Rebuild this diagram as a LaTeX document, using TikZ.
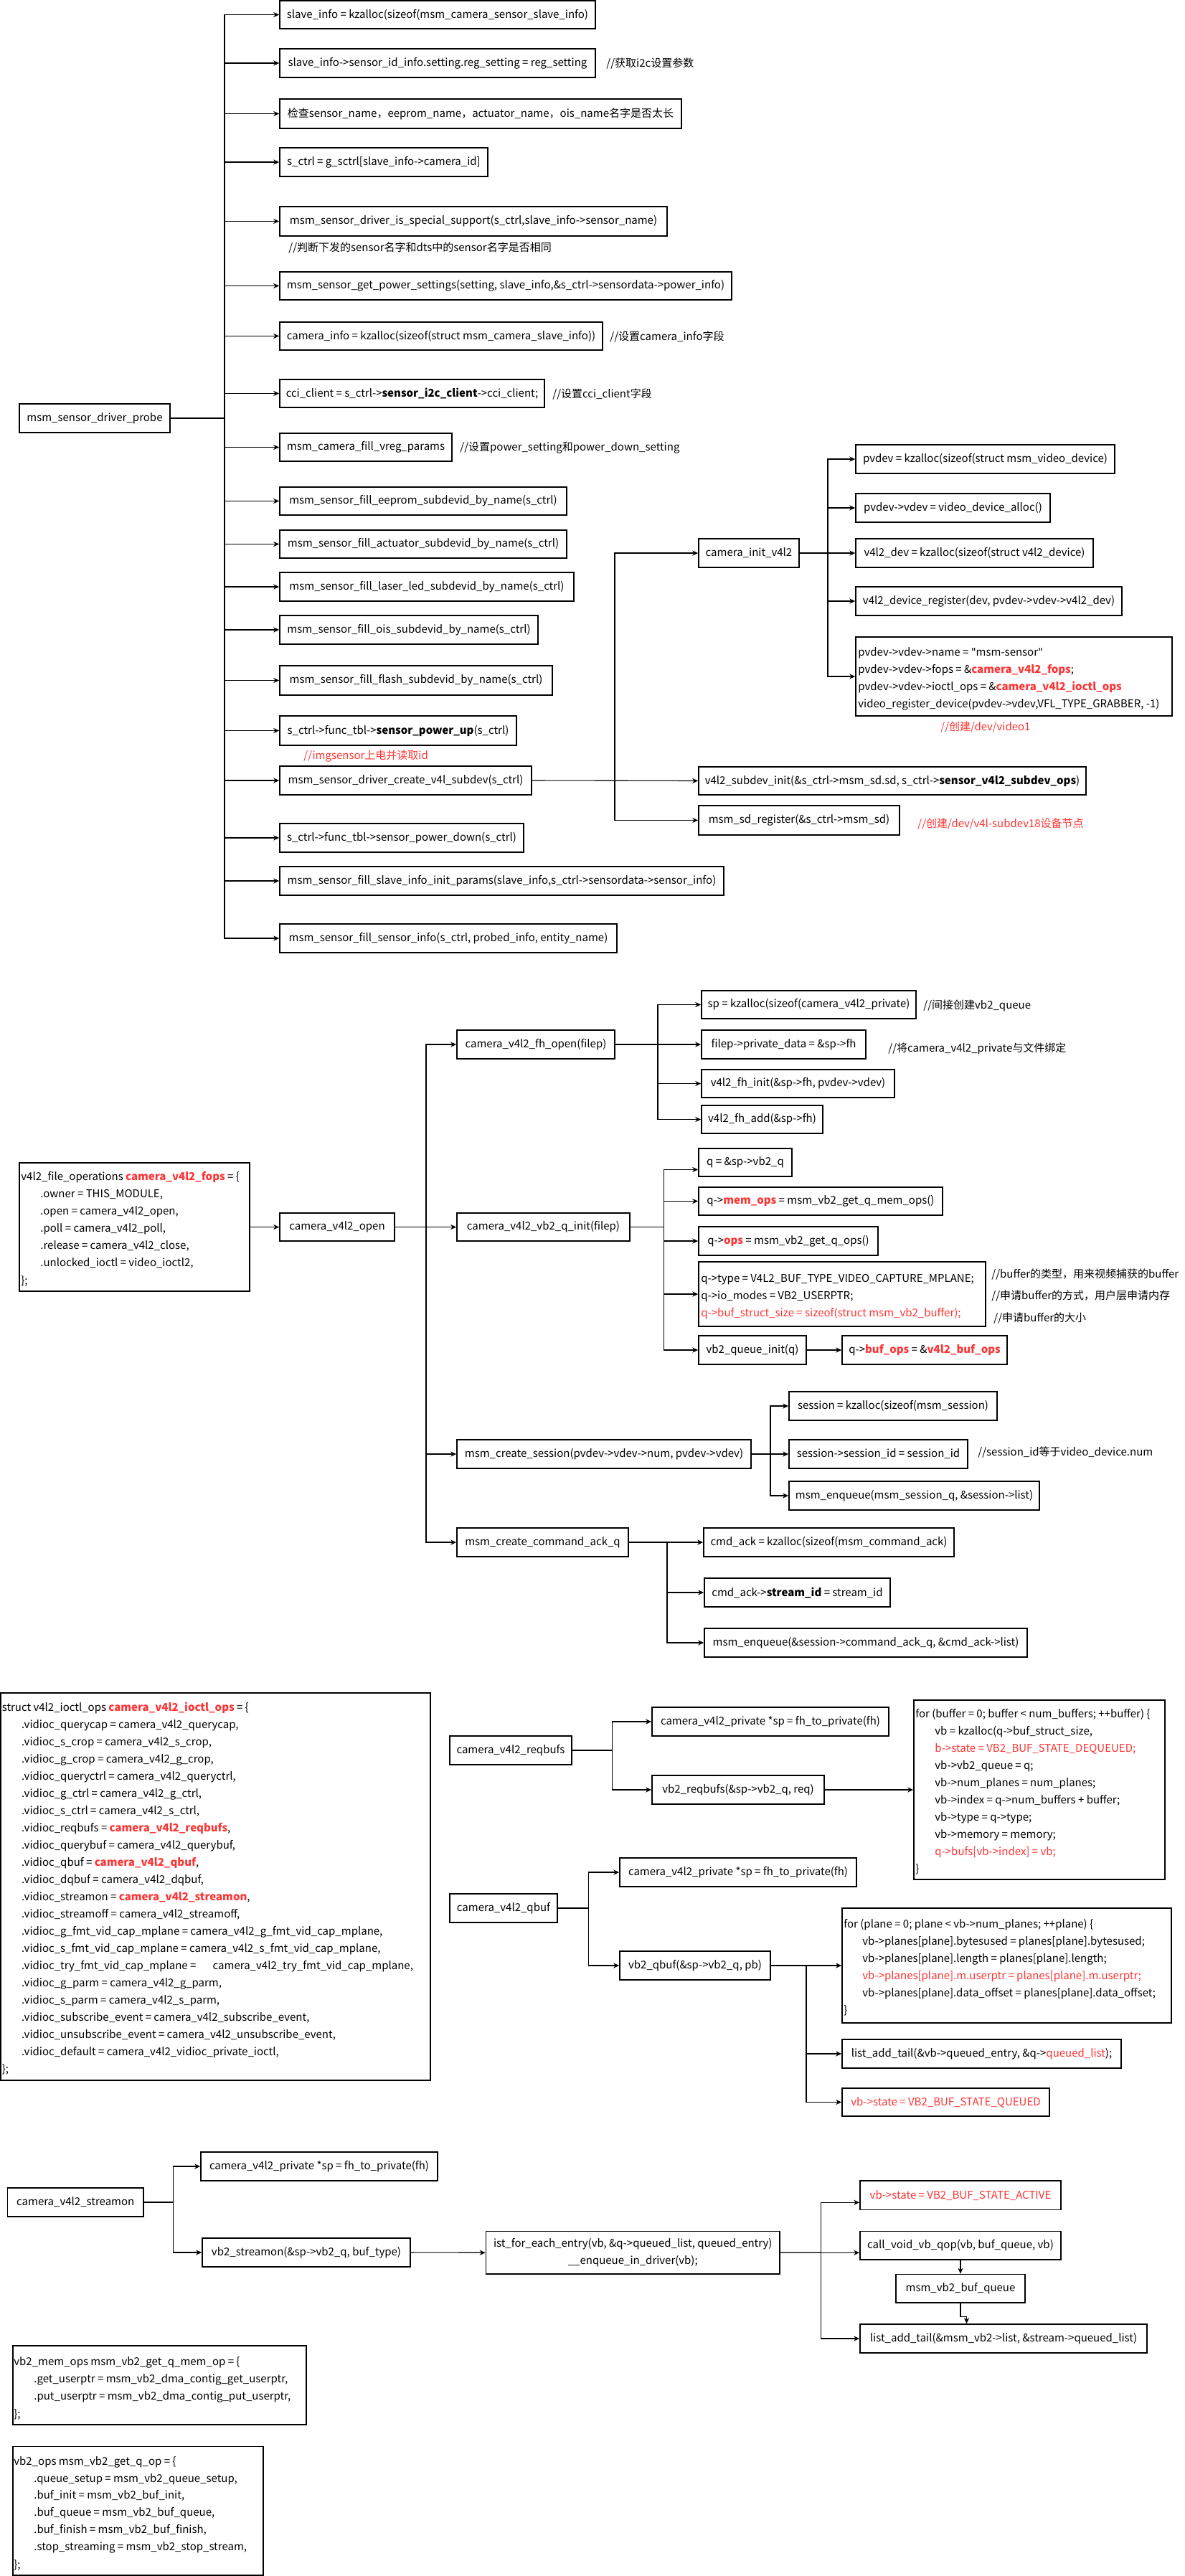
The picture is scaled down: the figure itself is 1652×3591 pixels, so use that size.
\documentclass[tikz,border=0pt]{standalone}
\usepackage{fontspec}
\setmainfont{Noto Sans CJK SC}
\newfontfamily\widefont{Noto Sans CJK SC}
\newfontfamily\qfont{DejaVu Sans}
\usetikzlibrary{arrows.meta}
\definecolor{hl}{RGB}{255,51,51}
\newcommand\rd[1]{\textcolor{hl}{#1}}
\newcommand\rb[1]{\textcolor{hl}{\bfseries #1}}
\newcommand\dq{{\qfont\char34}}
\newcommand\boxfont{\fontsize{7.5pt}{12pt}\selectfont}
\newcommand\codefont{\widefont\fontsize{7.5pt}{12pt}\selectfont}
\tikzset{
  x=0.5pt, y=-0.5pt,
  box/.style={draw=black, line width=0.85pt, inner sep=0pt, font=\boxfont},
  txt/.style={inner sep=0pt, font=\boxfont},
  wtxt/.style={inner sep=0pt, font=\codefont},
  arr/.style={line width=0.55pt, -{Stealth[length=4pt,width=3.6pt]}},
  ln/.style={line width=0.55pt},
}
% box given by its corners in pixel units
\newcommand\bx[7][]{\node[box,#1,minimum width={(#5-#3)*0.5pt},minimum height={(#6-#4)*0.5pt}] (#2) at ({(#3+#5)/2},{(#4+#6)/2}) {#7};}
% one line of code, placed on its baseline
\newcommand\codeln[5][txt]{\node[#1,anchor=base west] (#2) at (#3,#4) {#5};}
% a free comment, vertically centred
\newcommand\cmt[5][]{\node[txt,anchor=west,#1] (#2) at (#3,#4) {#5};}
\begin{document}
\catcode`\_=12
\begin{tikzpicture}
\fill[white] (0,0) rectangle (1652,3591);
\useasboundingbox (0,0) rectangle (1652,3591);

%% ---------------- msm_sensor_driver_probe ----------------
\bx{probe}{27}{563}{237}{603}{msm_sensor_driver_probe}
\bx{b1}{390}{1}{830}{40}{slave_info = kzalloc(sizeof(msm_camera_sensor_slave_info)}
\bx{b2}{390}{68}{830}{108}{slave_info->sensor_id_info.setting.reg_setting = reg_setting}
\bx{b3}{390}{138}{950}{179}{检查sensor_name，eeprom_name，actuator_name，ois_name名字是否太长}
\bx{b4}{390}{206}{680}{246}{s_ctrl = g_sctrl[slave_info->camera_id]}
\bx{b5}{390}{288}{930}{329}{msm_sensor_driver_is_special_support(s_ctrl,slave_info->sensor_name)}
\bx{b6}{390}{379}{1020}{418}{msm_sensor_get_power_settings(setting, slave_info,\&s_ctrl->sensordata->power_info)}
\bx{b7}{390}{449}{840}{488}{camera_info = kzalloc(sizeof(struct msm_camera_slave_info))}
\bx{b8}{390}{529}{759}{568}{cci_client = s_ctrl->\textbf{sensor_i2c_client}->cci_client;}
\bx{b9}{390}{604}{630}{643}{msm_camera_fill_vreg_params}
\bx{b10}{390}{679}{790}{718}{msm_sensor_fill_eeprom_subdevid_by_name(s_ctrl)}
\bx{b11}{390}{739}{790}{778}{msm_sensor_fill_actuator_subdevid_by_name(s_ctrl)}
\bx{b12}{390}{798}{800}{838}{msm_sensor_fill_laser_led_subdevid_by_name(s_ctrl)}
\bx{b13}{390}{858}{750}{898}{msm_sensor_fill_ois_subdevid_by_name(s_ctrl)}
\bx{b14}{390}{928}{770}{969}{msm_sensor_fill_flash_subdevid_by_name(s_ctrl)}
\bx{b15}{390}{998}{720}{1039}{s_ctrl->func_tbl->\textbf{sensor_power_up}(s_ctrl)}
\bx{b16}{390}{1068}{741}{1108}{msm_sensor_driver_create_v4l_subdev(s_ctrl)}
\bx{b17}{390}{1148}{730}{1188}{s_ctrl->func_tbl->sensor_power_down(s_ctrl)}
\bx{b18}{390}{1208}{1009}{1248}{msm_sensor_fill_slave_info_init_params(slave_info,s_ctrl->sensordata->sensor_info)}
\bx{b19}{390}{1288}{860}{1328}{msm_sensor_fill_sensor_info(s_ctrl, probed_info, entity_name)}

\cmt{c2}{845}{89}{//获取i2c设置参数}
\cmt{c5}{402}{345}{//判断下发的sensor名字和dts中的sensor名字是否相同}
\cmt{c7}{850}{469}{//设置camera_info字段}
\cmt{c8}{770}{549}{//设置cci_client字段}
\cmt{c9}{641}{624}{//设置power_setting和power_down_setting}
\cmt[text=hl]{c15}{423}{1054}{//imgsensor上电并读取id}

\coordinate (tr) at (313,583);
\draw[ln] (probe.east) -- (tr);
\foreach \n in {1,...,19} {\draw[arr] (tr) |- (b\n.west);}

%% camera_init_v4l2 and subdev registration
\bx{cinit}{974}{751}{1114}{791}{camera_init_v4l2}
\bx{sdinit}{974}{1069}{1514}{1108}{v4l2_subdev_init(\&s_ctrl->msm_sd.sd, s_ctrl->\textbf{sensor_v4l2_subdev_ops})}
\bx{sdreg}{974}{1123}{1254}{1164}{msm_sd_register(\&s_ctrl->msm_sd)}
\cmt[text=hl]{cv2}{1279}{1149}{//创建/dev/v4l-subdev18设备节点}

\bx{pv1}{1193}{620}{1554}{660}{pvdev = kzalloc(sizeof(struct msm_video_device)}
\bx{pv2}{1193}{688}{1464}{728}{pvdev->vdev = video_device_alloc()}
\bx{pv3}{1193}{751}{1524}{791}{v4l2_dev = kzalloc(sizeof(struct v4l2_device)}
\bx{pv4}{1193}{818}{1564}{858}{v4l2_device_register(dev, pvdev->vdev->v4l2_dev)}
\bx{pv5}{1193}{888}{1634}{998}{}
\codeln{pv5a}{1196}{914}{pvdev->vdev->name = \dq msm-sensor\dq}
\codeln{pv5b}{1196}{938}{pvdev->vdev->fops = \&\rb{camera_v4l2_fops};}
\codeln{pv5c}{1196}{962}{pvdev->vdev->ioctl_ops = \&\rb{camera_v4l2_ioctl_ops}}
\codeln{pv5d}{1196}{986}{video_register_device(pvdev->vdev,VFL_TYPE_GRABBER, -1)}
\cmt[text=hl]{cv1}{1311}{1014}{//创建/dev/video1}

\coordinate (j1) at (857,1088);
\draw[arr] (b16.east) -- (sdinit.west);
\draw[arr] (j1) |- (cinit.west);
\draw[arr] (j1) |- (sdreg.west);
\coordinate (j2) at (1154,771);
\draw[ln] (cinit.east) -- (j2);
\foreach \n in {1,...,5} {\draw[arr] (j2) |- (pv\n.west);}

%% ---------------- camera_v4l2_open ----------------
\bx{fops}{27}{1621}{348}{1800}{}
\codeln{f1}{29}{1645.6}{v4l2_file_operations \rb{camera_v4l2_fops} = \{}
\codeln{f2}{56}{1669.5}{.owner = THIS_MODULE,}
\codeln{f3}{56}{1693.5}{.open = camera_v4l2_open,}
\codeln{f4}{56}{1717.8}{.poll = camera_v4l2_poll,}
\codeln{f5}{56}{1741.7}{.release = camera_v4l2_close,}
\codeln{f6}{56}{1765.3}{.unlocked_ioctl = video_ioctl2,}
\codeln{f7}{29}{1790.3}{\};}

\bx{open}{390}{1691}{550}{1730}{camera_v4l2_open}
\bx{fhopen}{637}{1436}{857}{1476}{camera_v4l2_fh_open(filep)}
\bx{qinit}{637}{1691}{878}{1730}{camera_v4l2_vb2_q_init(filep)}
\bx{sess}{637}{2007}{1047}{2047}{msm_create_session(pvdev->vdev->num, pvdev->vdev)}
\bx{cackq}{637}{2130}{876}{2170}{msm_create_command_ack_q}

\bx{fh1}{978}{1381}{1277}{1420}{sp = kzalloc(sizeof(camera_v4l2_private)}
\bx{fh2}{978}{1436}{1207}{1476}{filep->private_data = \&sp->fh}
\bx{fh3}{978}{1491}{1247}{1530}{v4l2_fh_init(\&sp->fh, pvdev->vdev)}
\bx{fh4}{978}{1541}{1147}{1580}{v4l2_fh_add(\&sp->fh)}
\cmt{cf1}{1287}{1402}{//间接创建vb2_queue}
\cmt{cf2}{1238}{1462}{//将camera_v4l2_private与文件绑定}

\bx{qa}{974}{1601}{1104}{1640}{q = \&sp->vb2_q}
\bx{qb}{974}{1655}{1314}{1694}{q->\rb{mem_ops} = msm_vb2_get_q_mem_ops()}
\bx{qc}{974}{1710}{1224}{1750}{q->\rb{ops} = msm_vb2_get_q_ops()}
\bx{qd}{974}{1759}{1374}{1849}{}
\codeln{qd1}{977}{1787.7}{q->type = V4L2_BUF_TYPE_VIDEO_CAPTURE_MPLANE;}
\codeln{qd2}{977}{1811.7}{q->io_modes = VB2_USERPTR;}
\codeln{qd3}{977}{1835.2}{\rd{q->buf_struct_size = sizeof(struct msm_vb2_buffer);}}
\cmt{cq1}{1382}{1776}{//buffer的类型，用来视频捕获的buffer}
\cmt{cq2}{1382}{1806}{//申请buffer的方式，用户层申请内存}
\cmt{cq3}{1385}{1837}{//申请buffer的大小}
\bx{qe}{974}{1862}{1124}{1902}{vb2_queue_init(q)}
\bx{qf}{1174}{1862}{1404}{1902}{q->\rb{buf_ops} = \&\rb{v4l2_buf_ops}}

\bx{s1}{1100}{1940}{1390}{1980}{session = kzalloc(sizeof(msm_session)}
\bx{s2}{1100}{2007}{1349}{2047}{session->session_id = session_id}
\bx{s3}{1100}{2065}{1449}{2105}{msm_enqueue(msm_session_q, \&session->list)}
\cmt{cs2}{1363}{2024}{//session_id等于video_device.num}

\bx{a1}{981}{2130}{1330}{2170}{cmd_ack = kzalloc(sizeof(msm_command_ack)}
\bx{a2}{982}{2200}{1241}{2240}{cmd_ack->\textbf{stream_id} = stream_id}
\bx{a3}{982}{2270}{1432}{2310}{msm_enqueue(\&session->command_ack_q, \&cmd_ack->list)}

\draw[arr] (fops.east) -- (open.west);
\coordinate (j3) at (594,1710.5);
\draw[ln] (open.east) -- (j3);
\draw[arr] (j3) |- (fhopen.west);
\draw[arr] (j3) -- (qinit.west);
\draw[arr] (j3) |- (sess.west);
\draw[arr] (j3) |- (cackq.west);
\coordinate (j4) at (917,1456);
\draw[ln] (fhopen.east) -- (j4);
\foreach \n in {1,...,4} {\draw[arr] (j4) |- (fh\n.west);}
\coordinate (j5) at (925.5,1710.5);
\draw[ln] (qinit.east) -- (j5);
\draw[arr] (j5) |- ([yshift=-5pt]qa.west);
\draw[arr] (j5) |- (qb.west);
\draw[arr] (j5) |- (qc.west);
\draw[arr] (j5) |- (qd.west);
\draw[arr] (j5) |- (qe.west);
\draw[arr] (qe.east) -- (qf.west);
\coordinate (j6) at (1074,2027);
\draw[ln] (sess.east) -- (j6);
\foreach \n in {1,2,3} {\draw[arr] (j6) |- (s\n.west);}
\coordinate (j7) at (930,2150);
\draw[ln] (cackq.east) -- (j7);
\foreach \n in {1,2,3} {\draw[arr] (j7) |- (a\n.west);}

%% ---------------- ioctl ops ----------------
\bx{ioctl}{1}{2360}{600}{2900}{}
\codeln[wtxt]{i0}{2.4}{2385.6}{struct v4l2_ioctl_ops \rb{camera_v4l2_ioctl_ops} = \{}
\codeln[wtxt]{i1}{29.7}{2409.6}{.vidioc_querycap = camera_v4l2_querycap,}
\codeln[wtxt]{i2}{29.7}{2433.6}{.vidioc_s_crop = camera_v4l2_s_crop,}
\codeln[wtxt]{i3}{29.7}{2457.6}{.vidioc_g_crop = camera_v4l2_g_crop,}
\codeln[wtxt]{i4}{29.7}{2481.6}{.vidioc_queryctrl = camera_v4l2_queryctrl,}
\codeln[wtxt]{i5}{29.7}{2505.6}{.vidioc_g_ctrl = camera_v4l2_g_ctrl,}
\codeln[wtxt]{i6}{29.7}{2529.6}{.vidioc_s_ctrl = camera_v4l2_s_ctrl,}
\codeln[wtxt]{i7}{29.7}{2553.6}{.vidioc_reqbufs = \rb{camera_v4l2_reqbufs},}
\codeln[wtxt]{i8}{29.7}{2577.6}{.vidioc_querybuf = camera_v4l2_querybuf,}
\codeln[wtxt]{i9}{29.7}{2601.6}{.vidioc_qbuf = \rb{camera_v4l2_qbuf},}
\codeln[wtxt]{i10}{29.7}{2625.6}{.vidioc_dqbuf = camera_v4l2_dqbuf,}
\codeln[wtxt]{i11}{29.7}{2649.6}{.vidioc_streamon = \rb{camera_v4l2_streamon},}
\codeln[wtxt]{i12}{29.7}{2673.6}{.vidioc_streamoff = camera_v4l2_streamoff,}
\codeln[wtxt]{i13}{29.7}{2697.6}{.vidioc_g_fmt_vid_cap_mplane = camera_v4l2_g_fmt_vid_cap_mplane,}
\codeln[wtxt]{i14}{29.7}{2721.6}{.vidioc_s_fmt_vid_cap_mplane = camera_v4l2_s_fmt_vid_cap_mplane,}
\codeln[wtxt]{i15}{29.7}{2745.6}{.vidioc_try_fmt_vid_cap_mplane = \hspace{10pt}camera_v4l2_try_fmt_vid_cap_mplane,}
\codeln[wtxt]{i16}{29.7}{2769.6}{.vidioc_g_parm = camera_v4l2_g_parm,}
\codeln[wtxt]{i17}{29.7}{2793.6}{.vidioc_s_parm = camera_v4l2_s_parm,}
\codeln[wtxt]{i18}{29.7}{2817.6}{.vidioc_subscribe_event = camera_v4l2_subscribe_event,}
\codeln[wtxt]{i19}{29.7}{2841.6}{.vidioc_unsubscribe_event = camera_v4l2_unsubscribe_event,}
\codeln[wtxt]{i20}{29.7}{2865.6}{.vidioc_default = camera_v4l2_vidioc_private_ioctl,}
\codeln[wtxt]{i21}{2.4}{2889.6}{\};}

%% ---------------- reqbufs / qbuf ----------------
\bx{reqbufs}{627}{2420}{797}{2460}{camera_v4l2_reqbufs}
\bx{cp1}{909}{2380}{1239}{2420}{camera_v4l2_private *sp = fh_to_private(fh)}
\bx{vbreq}{909}{2475}{1149}{2515}{vb2_reqbufs(\&sp->vb2_q, req)}
\bx{forbuf}{1274}{2370}{1624}{2620}{}
\codeln{fb0}{1276}{2394}{for (buffer = 0; buffer < num_buffers; ++buffer) \{}
\codeln{fb1}{1303}{2418}{vb = kzalloc(q->buf_struct_size,}
\codeln{fb2}{1303}{2442}{\rd{b->state = VB2_BUF_STATE_DEQUEUED;}}
\codeln{fb3}{1303}{2466}{vb->vb2_queue = q;}
\codeln{fb4}{1303}{2490}{vb->num_planes = num_planes;}
\codeln{fb5}{1303}{2514}{vb->index = q->num_buffers + buffer;}
\codeln{fb6}{1303}{2538}{vb->type = q->type;}
\codeln{fb7}{1303}{2562}{vb->memory = memory;}
\codeln{fb8}{1303}{2586}{\rd{q->bufs[vb->index] = vb;}}
\codeln{fb9}{1276}{2610}{\}}

\bx{qbuf}{627}{2640}{777}{2680}{camera_v4l2_qbuf}
\bx{cp2}{864}{2590}{1194}{2630}{camera_v4l2_private *sp = fh_to_private(fh)}
\bx{vbq}{864}{2720}{1074}{2760}{vb2_qbuf(\&sp->vb2_q, pb)}
\bx{forplane}{1174}{2660}{1633}{2820}{}
\codeln{fp0}{1176}{2687.4}{for (plane = 0; plane < vb->num_planes; ++plane) \{}
\codeln{fp1}{1202}{2711.4}{vb->planes[plane].bytesused = planes[plane].bytesused;}
\codeln{fp2}{1202}{2735.4}{vb->planes[plane].length = planes[plane].length;}
\codeln{fp3}{1202}{2759.4}{\rd{vb->planes[plane].m.userptr = planes[plane].m.userptr;}}
\codeln{fp4}{1202}{2783.4}{vb->planes[plane].data_offset = planes[plane].data_offset;}
\codeln{fp5}{1176}{2807.4}{\}}
\bx{ladd}{1174}{2843}{1563}{2883}{list_add_tail(\&vb->queued_entry, \&q->\rd{queued_list});}
\bx{qstate}{1174}{2911}{1463}{2950}{\rd{vb->state = VB2_BUF_STATE_QUEUED}}

\coordinate (j8) at (853.6,2440);
\draw[ln] (reqbufs.east) -- (j8);
\draw[arr] (j8) |- (cp1.west);
\draw[arr] (j8) |- (vbreq.west);
\draw[arr] (vbreq.east) -- (forbuf.west);
\coordinate (j9) at (820.7,2660);
\draw[ln] (qbuf.east) -- (j9);
\draw[arr] (j9) |- (cp2.west);
\draw[arr] (j9) |- (vbq.west);
\draw[arr] (vbq.east) -- (forplane.west);
\coordinate (j10) at (1124,2740);
\draw[arr] (j10) |- (ladd.west);
\draw[arr] (j10) |- (qstate.west);

%% ---------------- streamon ----------------
\bx{streamon}{10.5}{3050}{200}{3090}{camera_v4l2_streamon}
\bx{cp3}{280}{3000}{610}{3040}{camera_v4l2_private *sp = fh_to_private(fh)}
\bx{vbs}{282}{3120}{572}{3160}{vb2_streamon(\&sp->vb2_q, buf_type)}
\bx[align=center]{lfe}{677.5}{3110.5}{1087}{3170}{ist_for_each_entry(vb, \&q->queued_list, queued_entry)\\__enqueue_in_driver(vb);}
\bx{active}{1199}{3040}{1479}{3080.5}{\rd{vb->state = VB2_BUF_STATE_ACTIVE}}
\bx{callq}{1199}{3110.5}{1479}{3150}{call_void_vb_qop(vb, buf_queue, vb)}
\bx{msmq}{1249}{3170.5}{1429}{3210}{msm_vb2_buf_queue}
\bx{lat}{1199}{3240}{1599}{3280}{list_add_tail(\&msm_vb2->list, \&stream->queued_list)}

\coordinate (j11) at (241.3,3070);
\draw[ln] (streamon.east) -- (j11);
\draw[arr] (j11) |- (cp3.west);
\draw[arr] (j11) |- (vbs.west);
\draw[arr] (vbs.east) -- (lfe.west);
\coordinate (j12) at (1144.2,3140.2);
\draw[ln] (lfe.east) -- (j12);
\draw[arr] (j12) |- ([yshift=-5pt]active.west);
\draw[arr] (j12) |- ([yshift=-5pt]callq.west);
\draw[arr] (j12) |- (lat.west);
\draw[arr] (callq.south) -- (callq.south |- msmq.north);
\coordinate (j13) at (1347.5,3229.4);
\draw[arr] (msmq.south) |- (j13) -- (j13 |- lat.north);

\bx{memop}{18}{3270}{427}{3380}{}
\codeln{m0}{19}{3297}{vb2_mem_ops msm_vb2_get_q_mem_op = \{}
\codeln{m1}{47}{3321}{.get_userptr = msm_vb2_dma_contig_get_userptr,}
\codeln{m2}{47}{3345}{.put_userptr = msm_vb2_dma_contig_put_userptr,}
\codeln{m3}{19}{3370.6}{\};}

\bx{vbop}{18}{3410.6}{367}{3590}{}
\codeln{o0}{19}{3436}{vb2_ops msm_vb2_get_q_op = \{}
\codeln{o1}{47}{3460}{.queue_setup = msm_vb2_queue_setup,}
\codeln{o2}{47}{3483.6}{.buf_init = msm_vb2_buf_init,}
\codeln{o3}{47}{3507.8}{.buf_queue = msm_vb2_buf_queue,}
\codeln{o4}{47}{3531.6}{.buf_finish = msm_vb2_buf_finish,}
\codeln{o5}{47}{3555.7}{.stop_streaming = msm_vb2_stop_stream,}
\codeln{o6}{19}{3580.3}{\};}
\end{tikzpicture}
\end{document}
